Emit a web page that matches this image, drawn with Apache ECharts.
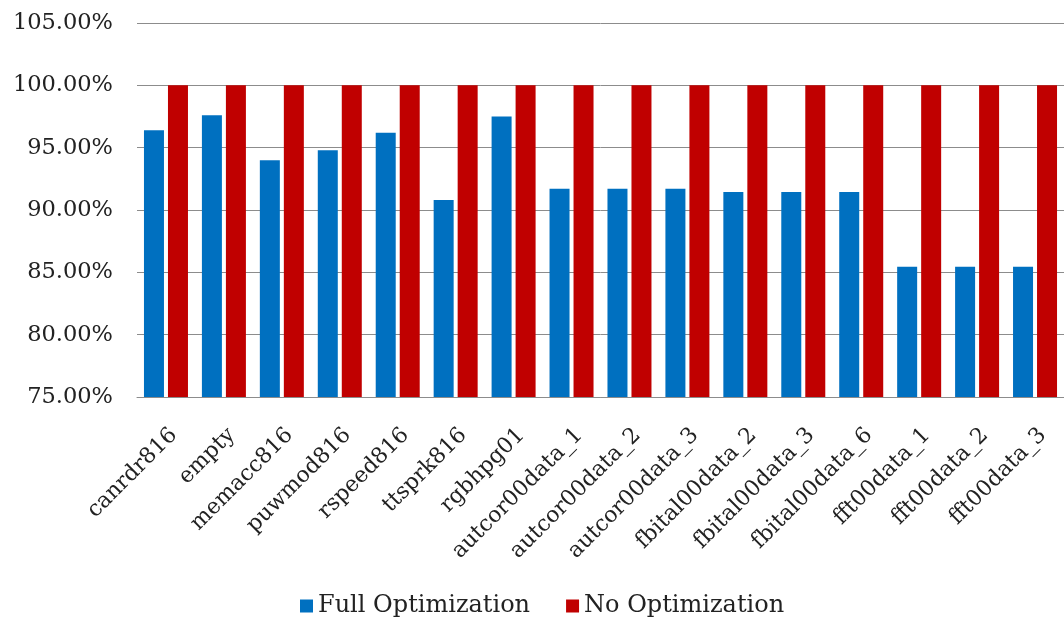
<!DOCTYPE html>
<html>
<head>
<meta charset="utf-8">
<script src="https://cdn.jsdelivr.net/npm/echarts@6/dist/echarts.min.js"></script>
<style>
  html, body { margin: 0; padding: 0; background: #fff; }
  #chart { width: 1064px; height: 624px; }
</style>
</head>
<body>
<div id="chart"></div>
<script>
// Benchmarks on the x axis
const categories = [
  'canrdr816', 'empty', 'memacc816', 'puwmod816', 'rspeed816', 'ttsprk816',
  'rgbhpg01', 'autcor00data_1', 'autcor00data_2', 'autcor00data_3',
  'fbital00data_2', 'fbital00data_3', 'fbital00data_6',
  'fft00data_1', 'fft00data_2', 'fft00data_3'
];

// Relative values, in percent
const fullOptimization = [
  96.4, 97.6, 94.0, 94.8, 96.2, 90.8, 97.5, 91.7, 91.7, 91.7,
  91.45, 91.45, 91.45, 85.45, 85.45, 85.45
];
const noOptimization = [
  100, 100, 100, 100, 100, 100, 100, 100, 100, 100,
  100, 100, 100, 100, 100, 100
];

const seriesNames = ['Full Optimization', 'No Optimization'];
const yMin = 75, yMax = 105, yStep = 5;

const FONT = '"DejaVu Serif", "Liberation Serif", serif';

const chart = echarts.init(document.getElementById('chart'), null, { renderer: 'canvas' });
chart.setOption({
  animation: false,
  backgroundColor: '#ffffff',
  grid: { left: 137, right: -4, top: 23, bottom: 227, containLabel: false },
  legend: {
    data: seriesNames,
    left: 295,
    top: 589,
    icon: 'rect',
    itemWidth: 13,
    itemHeight: 13,
    itemGap: 36,
    textStyle: { fontFamily: FONT, fontSize: 24, color: '#222' }
  },
  xAxis: {
    type: 'category',
    data: categories,
    axisLine: { show: true, lineStyle: { color: '#8c8c8c', width: 1 } },
    axisTick: { show: false },
    axisLabel: {
      rotate: 45,
      interval: 0,
      margin: 27,
      verticalAlign: 'top',
      fontFamily: FONT,
      fontSize: 22,
      color: '#222'
    }
  },
  yAxis: {
    type: 'value',
    min: yMin,
    max: yMax,
    interval: yStep,
    axisLine: { show: false },
    axisTick: { show: false },
    splitLine: { lineStyle: { color: '#8c8c8c', width: 1 } },
    axisLabel: {
      margin: 24,
      fontFamily: FONT,
      fontSize: 22.5,
      color: '#222',
      formatter: v => v.toFixed(2) + '%'
    }
  },
  series: [
    {
      name: seriesNames[0],
      type: 'bar',
      data: fullOptimization,
      barWidth: 20,
      barGap: '20%',
      itemStyle: { color: '#0070c0' }
    },
    {
      name: seriesNames[1],
      type: 'bar',
      data: noOptimization,
      barWidth: 20,
      itemStyle: { color: '#c00000' }
    }
  ]
});
</script>
</body>
</html>
